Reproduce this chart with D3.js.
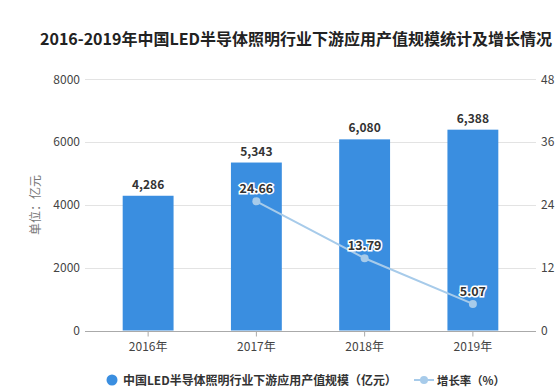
<!DOCTYPE html>
<html><head><meta charset="utf-8">
<script src="https://cdn.jsdelivr.net/npm/d3@7"></script>
<style>body{margin:0;background:#fff;}svg{display:block;font-family:"Microsoft YaHei","Noto Sans CJK SC",sans-serif;}</style>
</head><body>
<svg id="c" width="559" height="390"></svg>
<script>
const categories = ["2016年","2017年","2018年","2019年"];
const outputValues = [4286, 5343, 6080, 6388];
const growthRates = [null, 24.66, 13.79, 5.07];
const leftTicks = [0, 2000, 4000, 6000, 8000];
const rightTicks = [0, 12, 24, 36, 48];
const titleText = "2016-2019年中国LED半导体照明行业下游应用产值规模统计及增长情况";
const seriesNames = ["中国LED半导体照明行业下游应用产值规模（亿元）", "增长率（%）"];

const svg = d3.select("#c");
const barColor = "#3a8ee0", lineColor = "#a7cbea";
const plotTop = 79, plotBottom = 330.5, gridL = 85, gridR = 536;

const x = d3.scaleBand().domain(categories).range([94, 527]).paddingInner(0.53).paddingOuter(0.265);
const yL = d3.scaleLinear().domain([0, 8000]).range([plotBottom, plotTop]);
const yR = d3.scaleLinear().domain([0, 48]).range([plotBottom, plotTop]);

svg.append("text").attr("x", 40).attr("y", 45).attr("font-size", 16).attr("font-weight", "bold")
  .attr("fill", "#222").text(titleText);

// gridlines
svg.append("g").selectAll("line").data(leftTicks.slice(1)).join("line")
  .attr("x1", gridL).attr("x2", gridR).attr("y1", d => Math.round(yL(d)) + 0.5).attr("y2", d => Math.round(yL(d)) + 0.5)
  .attr("stroke", "#e3e3e3");

// left axis labels
svg.append("g").selectAll("text").data(leftTicks).join("text")
  .attr("x", 80).attr("y", d => yL(d) + 4.5).attr("text-anchor", "end")
  .attr("font-size", 12).attr("fill", "#444").text(d => d);
// right axis labels
svg.append("g").selectAll("text").data(rightTicks).join("text")
  .attr("x", 541).attr("y", d => yR(d) + 4.5).attr("text-anchor", "start")
  .attr("font-size", 12).attr("fill", "#444").text(d => d);

svg.append("text").attr("transform", `translate(40,205) rotate(-90)`).attr("text-anchor", "middle")
  .attr("font-size", 12).attr("fill", "#777").text("单位：亿元");

// bars
svg.append("g").selectAll("rect").data(outputValues).join("rect")
  .attr("x", (d, i) => x(categories[i])).attr("width", x.bandwidth())
  .attr("y", d => yL(d)).attr("height", d => plotBottom - yL(d)).attr("fill", barColor);

// x axis
const xAxis = d3.axisBottom(x).tickSize(5).tickSizeOuter(0);
const gx = svg.append("g").attr("transform", `translate(0,${Math.round(plotBottom) + 0.5})`).call(xAxis);
gx.select(".domain").remove();
gx.append("line").attr("x1", gridL).attr("x2", gridR).attr("stroke", "#aaa");
gx.selectAll(".tick line").attr("stroke", "#aaa");
gx.selectAll(".tick text").attr("font-size", 12).attr("fill", "#444").attr("dy", "0.95em")
  .attr("font-family", '"Microsoft YaHei","Noto Sans CJK SC",sans-serif');

// bar labels
svg.append("g").selectAll("text").data(outputValues).join("text")
  .attr("x", (d, i) => x(categories[i]) + x.bandwidth() / 2).attr("y", d => yL(d) - 7)
  .attr("text-anchor", "middle").attr("font-size", 12).attr("font-weight", "bold").attr("fill", "#333")
  .text(d => d3.format(",")(d));

// line
const pts = growthRates.map((v, i) => ({v, c: categories[i]})).filter(d => d.v !== null);
const line = d3.line().x(d => x(d.c) + x.bandwidth() / 2).y(d => yR(d.v));
svg.append("path").datum(pts).attr("d", line).attr("fill", "none").attr("stroke", lineColor).attr("stroke-width", 2);
svg.append("g").selectAll("circle").data(pts).join("circle")
  .attr("cx", d => x(d.c) + x.bandwidth() / 2).attr("cy", d => yR(d.v)).attr("r", 4)
  .attr("fill", lineColor);
svg.append("g").selectAll("text").data(pts).join("text")
  .attr("x", d => x(d.c) + x.bandwidth() / 2).attr("y", d => yR(d.v) - 8)
  .attr("text-anchor", "middle").attr("font-size", 12.5).attr("font-weight", "bold").attr("fill", "#333")
  .attr("stroke", "#fff").attr("stroke-width", 3).attr("paint-order", "stroke")
  .text(d => d.v.toFixed(2));

// legend: size text to the reference's extent
function fitText(t, target) {
  let fs = 13;
  t.attr("font-size", fs);
  const w = t.node().getComputedTextLength();
  t.attr("font-size", Math.min(15, fs * target / w));
}
const lg = svg.append("g");
lg.append("circle").attr("cx", 112).attr("cy", 380).attr("r", 5.5).attr("fill", barColor);
const t1 = lg.append("text").attr("x", 123).attr("y", 385).attr("font-weight", "bold").attr("fill", "#333")
  .text(seriesNames[0]);
fitText(t1, 274);
lg.append("line").attr("x1", 414).attr("x2", 434).attr("y1", 380).attr("y2", 380).attr("stroke", lineColor).attr("stroke-width", 2);
lg.append("circle").attr("cx", 424).attr("cy", 380).attr("r", 4).attr("fill", lineColor);
const t2 = lg.append("text").attr("x", 437).attr("y", 385).attr("font-weight", "bold").attr("fill", "#333")
  .text(seriesNames[1]);
fitText(t2, 68);
</script>
</body></html>
